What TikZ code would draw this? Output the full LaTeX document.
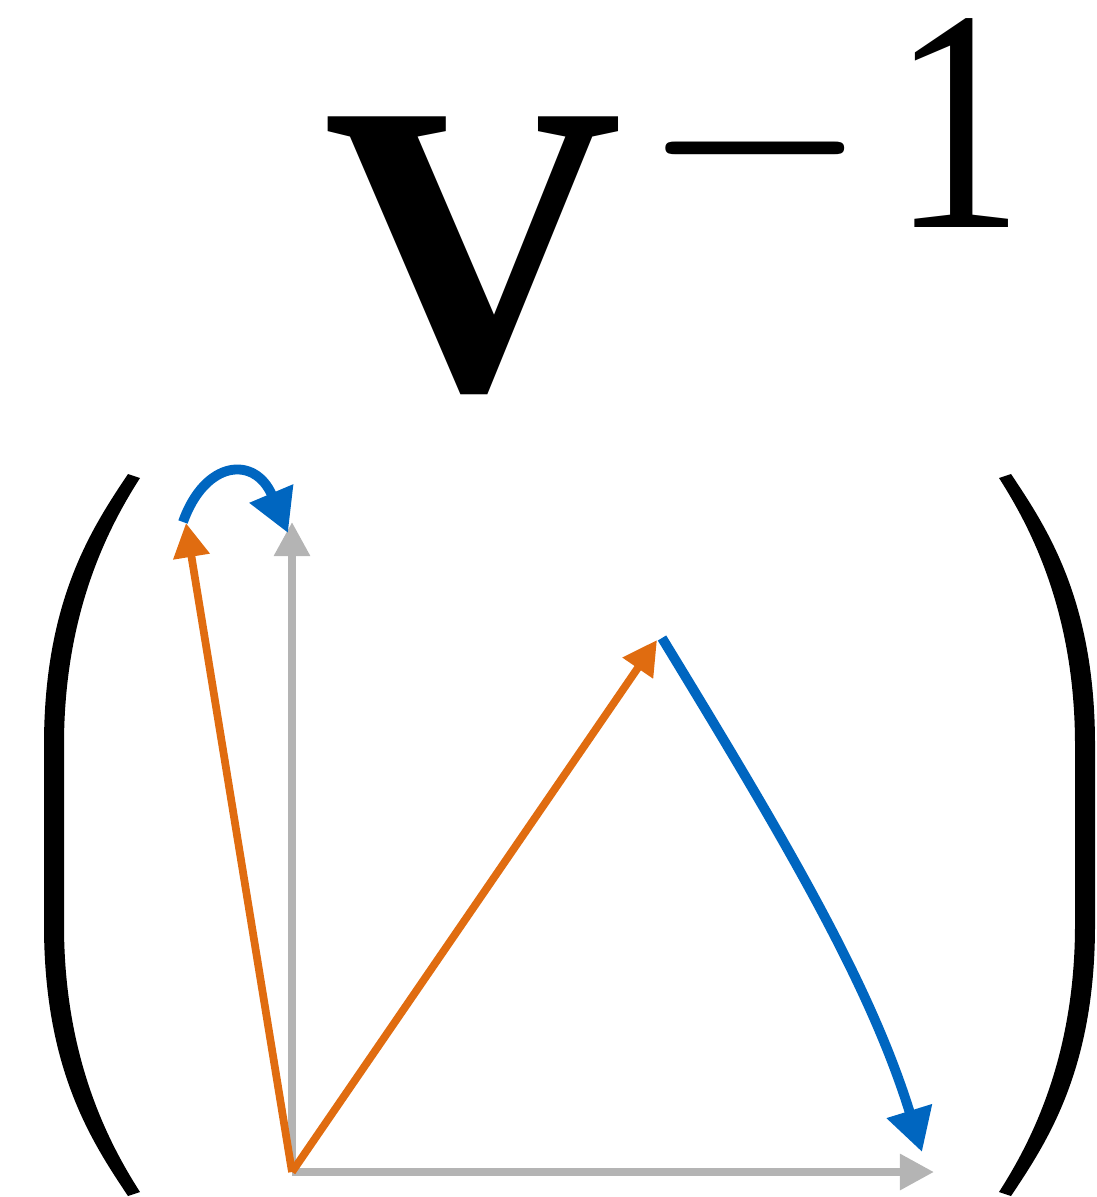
\RequirePackage{fix-cm}
\documentclass[tikz,border=0pt]{standalone}
\usepackage{fontspec}
\usepackage{graphicx}
\setmainfont{Liberation Serif}
\usetikzlibrary{arrows.meta}
\definecolor{vgray}{RGB}{180,180,180}
\definecolor{vorange}{RGB}{224,108,16}
\definecolor{vblue}{RGB}{0,102,192}
\begin{document}
\begin{tikzpicture}[x=0.01cm,y=-0.01cm,
  grayvec/.style={draw=vgray,line width=2.25pt,-{Triangle[length=9.7pt,width=9.8pt]}},
  orangevec/.style={draw=vorange,line width=2.2pt,-{Triangle[length=9.7pt,width=10pt]}},
  bluevec/.style={draw=vblue,line width=2.8pt,-{Triangle[length=12.2pt,width=12.8pt]}},
  paren/.style={fill=black,draw=none}]
\useasboundingbox (0,0) rectangle (1097,1197);
% title
\node[anchor=base,inner sep=0,font=\fontsize{118}{118}\selectfont\bfseries] (V) at (473,388) {V};
\node[anchor=base west,inner sep=0,font=\fontsize{90}{90}\selectfont] (sup) at (641,228)
  {\scalebox{0.925}[1]{$-$}\hspace{6.3pt}\scalebox{0.84}[1]{1}};
% parentheses
\path[paren] (128,474) .. controls (92,528) and (44,600) .. (44,745) -- (44,925)
  .. controls (44,1070) and (92,1142) .. (128,1196) -- (140,1192)
  .. controls (110,1145) and (64,1060) .. (64,925) -- (64,745)
  .. controls (64,610) and (110,525) .. (140,478) -- cycle;
\path[paren] (1011,474) .. controls (1047,528) and (1095,600) .. (1095,745) -- (1095,925)
  .. controls (1095,1070) and (1047,1142) .. (1011,1196) -- (999,1192)
  .. controls (1029,1145) and (1075,1060) .. (1075,925) -- (1075,745)
  .. controls (1075,610) and (1029,525) .. (999,478) -- cycle;
% points
\coordinate (O) at (292,1172);
\coordinate (e2) at (292,522);
\coordinate (e1) at (934,1172);
\coordinate (a) at (186,523);
\coordinate (b) at (657,640);
\coordinate (bs) at (662,638);
\coordinate (be) at (922,1152);
\coordinate (as) at (183,522);
\coordinate (ae) at (288,533);
% gray basis
\draw[grayvec] (O) -- (e2);
\draw[grayvec] (O) -- (e1);
% blue transformations
\draw[bluevec] (as) .. controls (205,460) and (255,455) .. (ae);
\draw[bluevec] (bs) .. controls (787,843) and (870,984) .. (be);
% orange vectors
\draw[orangevec] (O) -- (a);
\draw[orangevec] (O) -- (b);
\end{tikzpicture}
\end{document}
